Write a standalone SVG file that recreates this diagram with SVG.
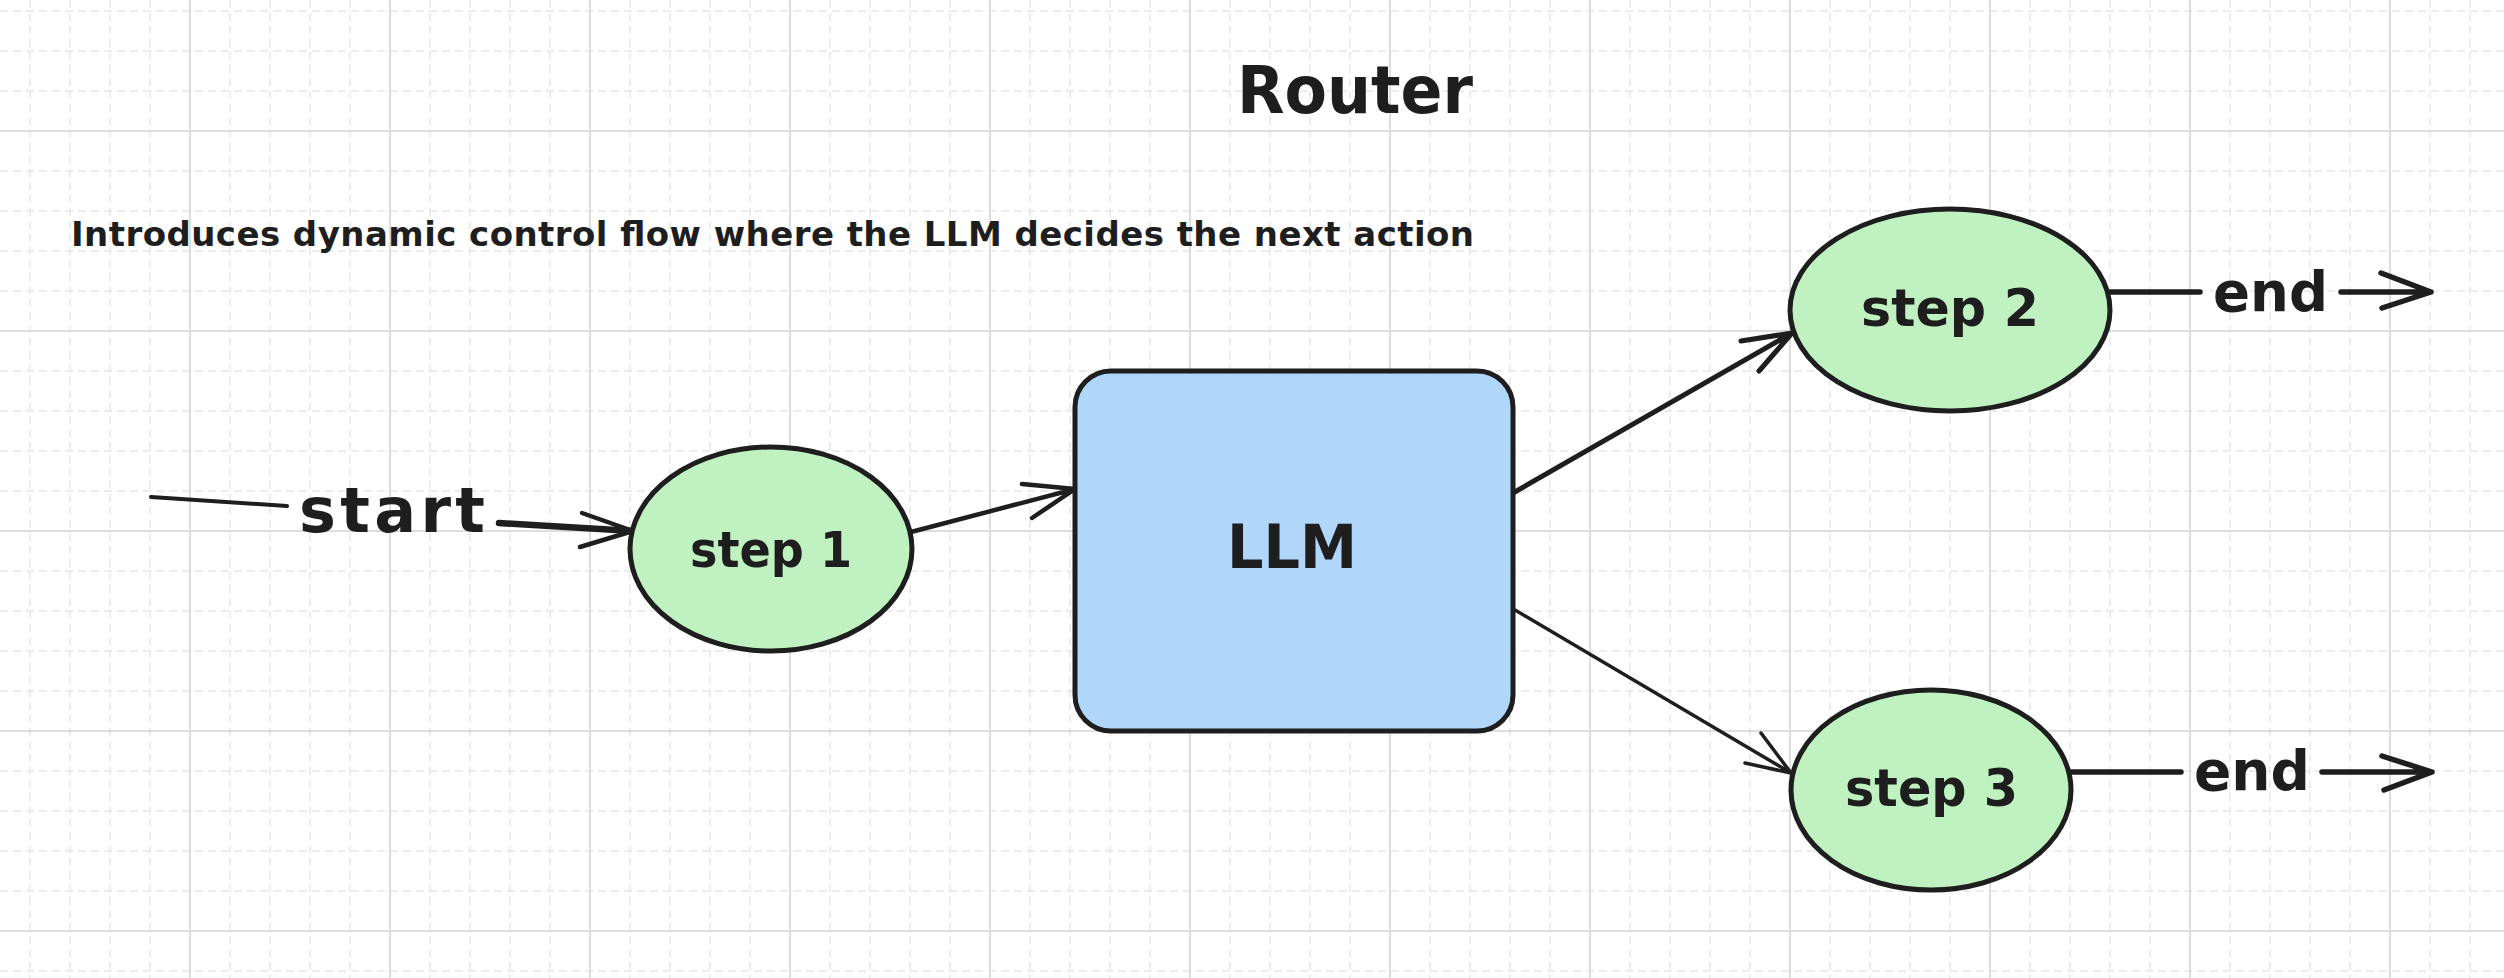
<svg xmlns="http://www.w3.org/2000/svg" width="2504" height="978" viewBox="0 0 2504 978">
<defs>
<style>
.minor{stroke:#e6e6e6;stroke-width:1.5;stroke-dasharray:8 5;fill:none}
.major{stroke:#dedede;stroke-width:2.2;fill:none}
.txt{font-family:"DejaVu Sans","Liberation Sans",sans-serif;font-weight:bold;fill:#1e1e1e}
.ell{fill:#bff1c1;stroke:#1e1e1e;stroke-width:5}
.box{fill:#b0d6f9;stroke:#1e1e1e;stroke-width:5}
.ln{stroke:#1e1e1e;fill:none;stroke-linecap:round;stroke-linejoin:round}
</style>
</defs>
<rect x="0" y="0" width="2504" height="978" fill="#ffffff"/>
<g id="grid">
<path class="minor" d="M30 0V978M70 0V978M110 0V978M150 0V978M230 0V978M270 0V978M310 0V978M350 0V978M430 0V978M470 0V978M510 0V978M550 0V978M630 0V978M670 0V978M710 0V978M750 0V978M830 0V978M870 0V978M910 0V978M950 0V978M1030 0V978M1070 0V978M1110 0V978M1150 0V978M1230 0V978M1270 0V978M1310 0V978M1350 0V978M1430 0V978M1470 0V978M1510 0V978M1550 0V978M1630 0V978M1670 0V978M1710 0V978M1750 0V978M1830 0V978M1870 0V978M1910 0V978M1950 0V978M2030 0V978M2070 0V978M2110 0V978M2150 0V978M2230 0V978M2270 0V978M2310 0V978M2350 0V978M2430 0V978M2470 0V978"/>
<path class="minor" d="M0 11H2504M0 51H2504M0 91H2504M0 171H2504M0 211H2504M0 251H2504M0 291H2504M0 371H2504M0 411H2504M0 451H2504M0 491H2504M0 571H2504M0 611H2504M0 651H2504M0 691H2504M0 771H2504M0 811H2504M0 851H2504M0 891H2504M0 971H2504"/>
<path class="major" d="M190 0V978M390 0V978M590 0V978M790 0V978M990 0V978M1190 0V978M1390 0V978M1590 0V978M1790 0V978M1990 0V978M2190 0V978M2390 0V978M0 131H2504M0 331H2504M0 531H2504M0 731H2504M0 931H2504"/>
</g>
<g id="title">
<text class="txt" x="1237" y="113" font-size="66" textLength="236" lengthAdjust="spacingAndGlyphs">Router</text>
</g>
<g id="subtitle">
<text class="txt" x="71" y="246" font-size="34" textLength="1403">Introduces dynamic control flow where the LLM decides the next action</text>
</g>
<g id="connectors">
<path class="ln" stroke-width="4" d="M151 497L287 506"/>
<text class="txt" x="299" y="532" font-size="62" textLength="186">start</text>
<path class="ln" stroke-width="6.5" d="M499 523L633 531"/>
<path class="ln" stroke-width="4.5" d="M582 513L633 531L580 547"/>
<path class="ln" stroke-width="4.5" d="M911 532L1075 489M1022 484L1075 489L1032 518"/>
<path class="ln" stroke-width="5" d="M1513 493L1792 333M1741 341L1792 333L1759 371"/>
<path class="ln" stroke-width="3.5" d="M1515 610L1791 773M1761 733L1791 773L1745 763"/>
<path class="ln" stroke-width="5.5" d="M2110 292L2200 292M2341 292L2431 292M2381 273L2431 292L2382 308"/>
<text class="txt" x="2213" y="311" font-size="56" textLength="115" lengthAdjust="spacingAndGlyphs">end</text>
<path class="ln" stroke-width="5.5" d="M2071 772L2181 772M2322 772L2432 772M2382 756L2432 772L2384 790"/>
<text class="txt" x="2194" y="790" font-size="56" textLength="116" lengthAdjust="spacingAndGlyphs">end</text>
</g>
<g id="step1">
<ellipse class="ell" cx="771" cy="549" rx="141" ry="102"/>
<text class="txt" x="690" y="567" font-size="50" textLength="162" lengthAdjust="spacingAndGlyphs">step 1</text>
</g>
<g id="llm">
<rect class="box" x="1075" y="371" width="438" height="360" rx="36" ry="36"/>
<text class="txt" x="1227" y="568" font-size="60" textLength="130" lengthAdjust="spacingAndGlyphs">LLM</text>
</g>
<g id="step2">
<ellipse class="ell" cx="1950" cy="310" rx="160" ry="101"/>
<text class="txt" x="1861" y="326" font-size="52" textLength="178" lengthAdjust="spacingAndGlyphs">step 2</text>
</g>
<g id="step3">
<ellipse class="ell" cx="1931" cy="790" rx="140" ry="100"/>
<text class="txt" x="1845" y="806" font-size="52" textLength="173" lengthAdjust="spacingAndGlyphs">step 3</text>
</g>
</svg>
